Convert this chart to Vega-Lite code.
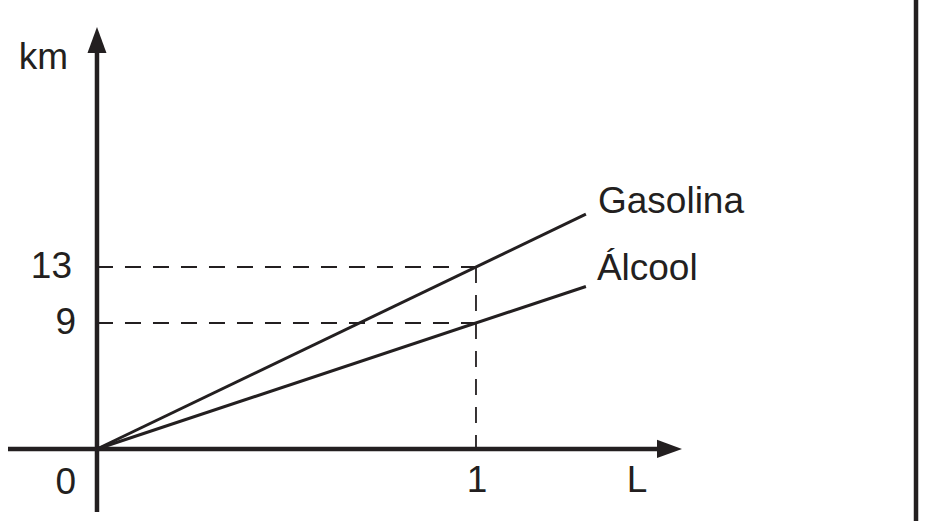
{
  "$schema": "https://vega.github.io/schema/vega-lite/v6.json",
  "description": "km per litre: Gasolina vs Álcool",
  "width": 927,
  "height": 521,
  "autosize": "none",
  "padding": 0,
  "background": "#ffffff",
  "config": {"view": {"stroke": null}},
  "datasets": {
    "axes": [
      {"part": "yaxis", "x": 0, "y": -4.5, "x2": 0, "y2": 28.5},
      {"part": "xaxis", "x": -0.2348, "y": 0, "x2": 1.48, "y2": 0},
      {"part": "border", "x": 2.161, "y": -5.143, "x2": 2.161, "y2": 32.07}
    ],
    "guides": [
      {"x": 0, "y": 13, "x2": 1, "y2": 13},
      {"x": 0, "y": 9, "x2": 1, "y2": 9},
      {"x": 1, "y": 13, "x2": 1, "y2": 0}
    ],
    "fuel": [
      {"fuel": "Gasolina", "L": 0, "km": 0},
      {"fuel": "Gasolina", "L": 1.29, "km": 16.77},
      {"fuel": "Álcool", "L": 0, "km": 0},
      {"fuel": "Álcool", "L": 1.29, "km": 11.61}
    ],
    "seriesLabels": [
      {"text": "Gasolina", "x": 1.3219, "y": 16.86},
      {"text": "Álcool", "x": 1.319, "y": 12.07}
    ],
    "yTicks": [
      {"text": "13", "x": -0.066, "y": 13},
      {"text": "9", "x": -0.0554, "y": 9},
      {"text": "0", "x": -0.0554, "y": -2.43}
    ],
    "centered": [
      {"text": "km", "x": -0.1412, "y": 27.9},
      {"text": "1", "x": 1.0026, "y": -2.3},
      {"text": "L", "x": 1.4248, "y": -2.3}
    ]
  },
  "layer": [
    {
      "data": {"name": "guides"},
      "mark": {"type": "rule", "color": "#231f20", "strokeWidth": 1.8, "strokeDash": [16, 12]},
      "encoding": {
        "x": {"field": "x", "type": "quantitative", "scale": {"domain": [-0.2559, 2.19], "nice": false, "zero": false}, "axis": null},
        "x2": {"field": "x2"},
        "y": {"field": "y", "type": "quantitative", "scale": {"domain": [-5.143, 32.071], "nice": false, "zero": false}, "axis": null},
        "y2": {"field": "y2"}
      }
    },
    {
      "data": {"name": "axes"},
      "mark": {"type": "rule", "color": "#231f20", "strokeWidth": 4.5},
      "encoding": {
        "x": {"field": "x", "type": "quantitative"},
        "x2": {"field": "x2"},
        "y": {"field": "y", "type": "quantitative"},
        "y2": {"field": "y2"}
      }
    },
    {
      "data": {"name": "fuel"},
      "mark": {"type": "line", "color": "#231f20", "strokeWidth": 3},
      "encoding": {
        "x": {"field": "L", "type": "quantitative"},
        "y": {"field": "km", "type": "quantitative"},
        "detail": {"field": "fuel"}
      }
    },
    {
      "data": {"values": [{"x": 0, "y": 29.21}]},
      "mark": {"type": "point", "shape": "M0,-1L0.73,1L-0.73,1Z", "size": 676, "filled": true, "color": "#231f20", "opacity": 1},
      "encoding": {
        "x": {"field": "x", "type": "quantitative"},
        "y": {"field": "y", "type": "quantitative"}
      }
    },
    {
      "data": {"values": [{"x": 1.5106, "y": 0}]},
      "mark": {"type": "point", "shape": "M1,0L-1,-0.73L-1,0.73Z", "size": 625, "filled": true, "color": "#231f20", "opacity": 1},
      "encoding": {
        "x": {"field": "x", "type": "quantitative"},
        "y": {"field": "y", "type": "quantitative"}
      }
    },
    {
      "data": {"name": "seriesLabels"},
      "mark": {"type": "text", "font": "Liberation Sans", "fontSize": 37, "color": "#231f20", "baseline": "alphabetic", "align": "left"},
      "encoding": {
        "x": {"field": "x", "type": "quantitative"},
        "y": {"field": "y", "type": "quantitative"},
        "text": {"field": "text"}
      }
    },
    {
      "data": {"name": "yTicks"},
      "mark": {"type": "text", "font": "Liberation Sans", "fontSize": 37, "color": "#231f20", "baseline": "middle", "align": "right"},
      "encoding": {
        "x": {"field": "x", "type": "quantitative"},
        "y": {"field": "y", "type": "quantitative"},
        "text": {"field": "text"}
      }
    },
    {
      "data": {"name": "centered"},
      "mark": {"type": "text", "font": "Liberation Sans", "fontSize": 37, "color": "#231f20", "baseline": "middle", "align": "center"},
      "encoding": {
        "x": {"field": "x", "type": "quantitative"},
        "y": {"field": "y", "type": "quantitative"},
        "text": {"field": "text"}
      }
    }
  ]
}
